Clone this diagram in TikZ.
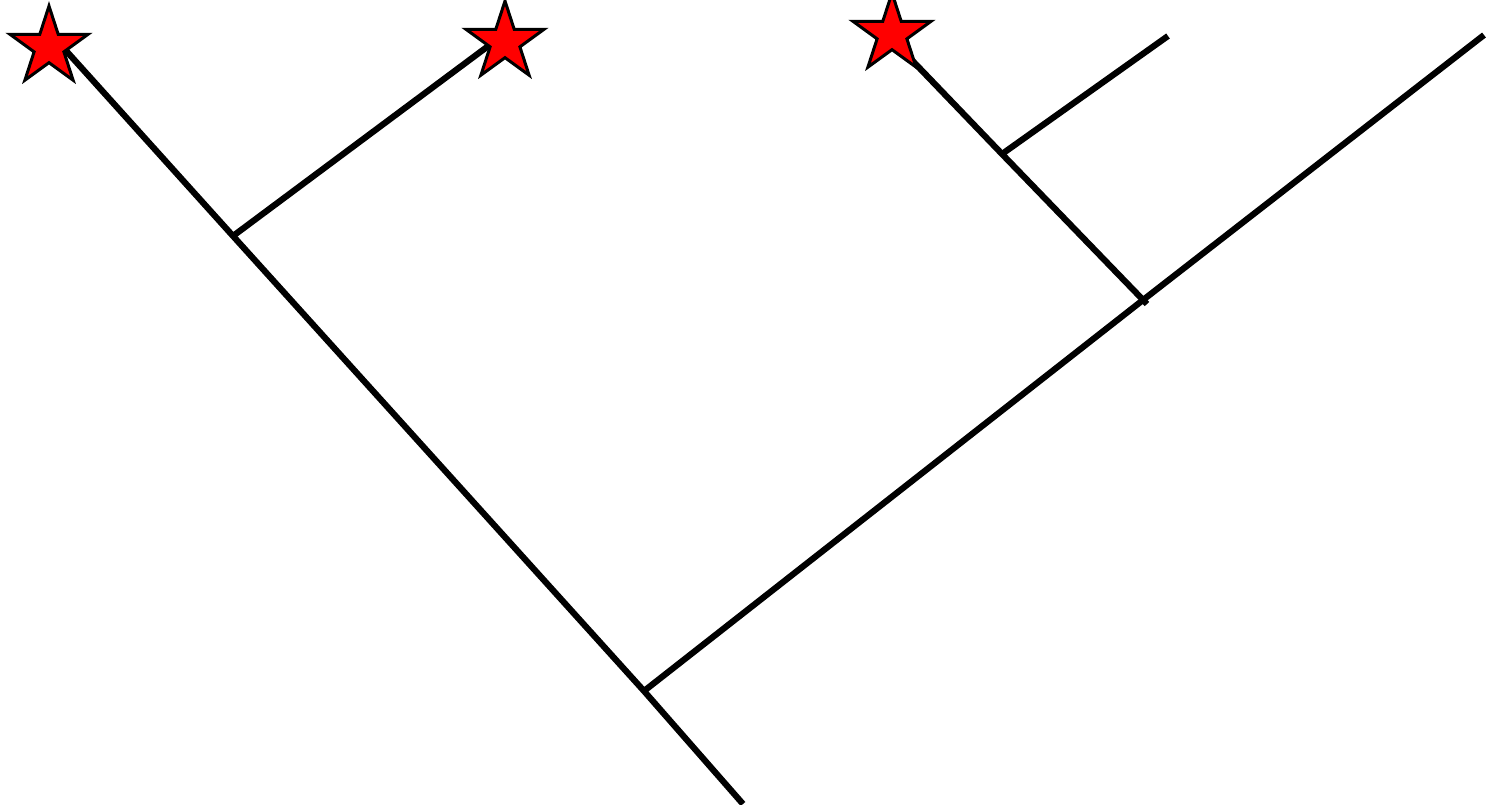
\documentclass[tikz,border=0pt]{standalone}
\usetikzlibrary{shapes.geometric}
\begin{document}
\begin{tikzpicture}[x=1pt,y=-1pt,
  branch/.style={line width=6.2pt,line cap=butt,draw=black},
  redstar/.style={star,star points=5,star point ratio=2.618,minimum size=82pt,inner sep=0pt,outer sep=0pt,fill=red,draw=black,line width=3pt}]
\useasboundingbox (0,0) rectangle (1488,804);
\coordinate (root) at (743,804);
\coordinate (A) at (644,691);
\coordinate (B) at (233,236);
\coordinate (l1) at (60,44);
\coordinate (l2) at (495,41);
\coordinate (C) at (1143,300);
\coordinate (Cx) at (1147,304);
\coordinate (D) at (1002,154);
\coordinate (l3) at (905,53);
\coordinate (l4) at (1168,36);
\coordinate (l5) at (1484,35);
\draw[branch] (root) -- (A) -- (B) -- (l1);
\draw[branch] (B) -- (l2);
\draw[branch] (A) -- (C) -- (l5);
\draw[branch] (Cx) -- (D) -- (l3);
\draw[branch] (D) -- (l4);
\node[redstar] (s1) at (49,47) {};
\node[redstar] (s2) at (505,42) {};
\node[redstar] (s3) at (892,34) {};
\end{tikzpicture}
\end{document}
